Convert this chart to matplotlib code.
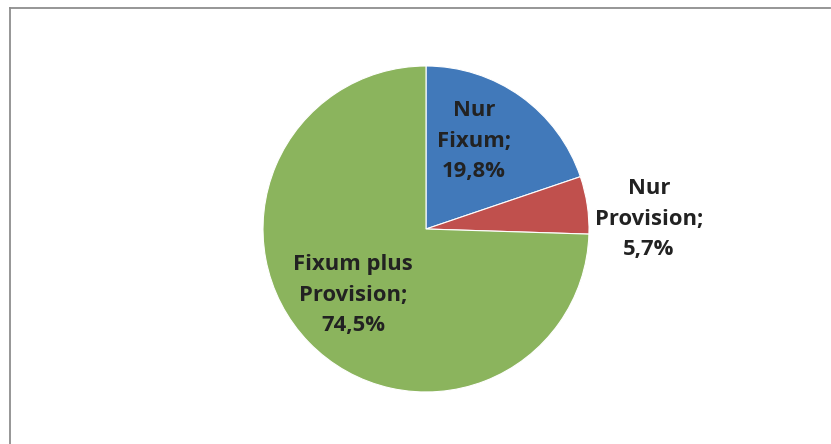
import matplotlib
matplotlib.use("Agg")
import matplotlib.pyplot as plt
from matplotlib.lines import Line2D

categories = ["Nur\nFixum", "Nur\nProvision", "Fixum plus\nProvision"]
shares = [19.8, 5.7, 74.5]
colors = ["#4179BA", "#C0504D", "#8BB45D"]
label_pos = [(474, 141), (649, 219), (353, 295)]  # pixel positions (x, y from top)

W, H = 831, 444
fig = plt.figure(figsize=(W / 100, H / 100), dpi=100)
ax = fig.add_axes([0, 0, 1, 1])
ax.set_xlim(0, W)
ax.set_ylim(0, H)
ax.axis("off")

ax.pie(shares, colors=colors, startangle=90, counterclock=False,
       center=(426, H - 229), radius=163,
       wedgeprops=dict(edgecolor="white", linewidth=0.8))
ax.set_xlim(0, W)
ax.set_ylim(0, H)

for cat, val, (px, py) in zip(categories, shares, label_pos):
    txt = f"{cat};\n{val:.1f}%".replace(".", ",")
    ax.text(px, H - py, txt, ha="center", va="center", fontsize=15.8,
            fontweight="bold", family="Open Sans", color="#222222",
            linespacing=1.62)

# chart frame (top and left edges)
fig.add_artist(Line2D([9.5 / W, 830 / W], [1 - 8.5 / H, 1 - 8.5 / H],
                      transform=fig.transFigure, color="#8E8E8E", lw=1.3))
fig.add_artist(Line2D([9.5 / W, 9.5 / W], [0, 1 - 8.5 / H],
                      transform=fig.transFigure, color="#8E8E8E", lw=1.3))

fig.savefig("out.png", dpi=100)
